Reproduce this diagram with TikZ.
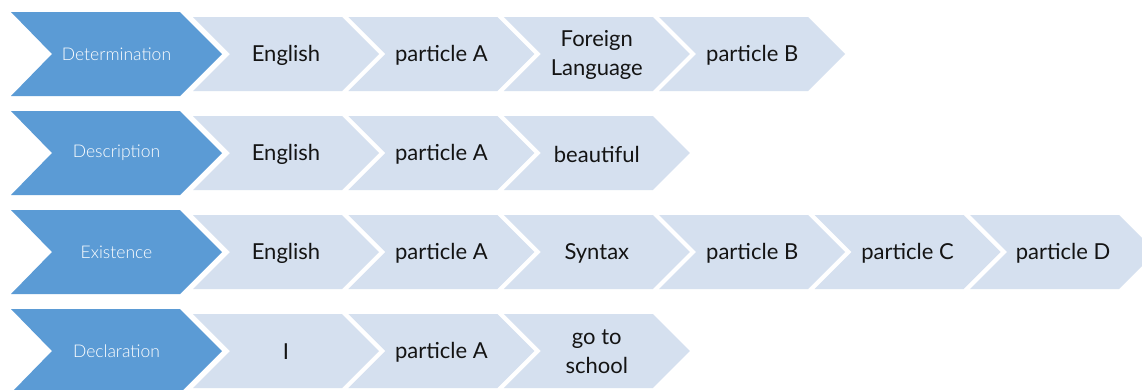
\documentclass[tikz,border=0pt]{standalone}
\usepackage{fontspec}
\setmainfont{Lato}
\newfontfamily\thinfont{Lato Light}
\definecolor{chevblue}{RGB}{91,155,213}
\definecolor{chevlight}{RGB}{213,224,239}
\definecolor{chevtext}{RGB}{20,20,20}
\newcommand{\bluechev}[2]{%
  \fill[chevblue] (11,#1-42) -- (180,#1-42) -- (222,#1) -- (180,#1+42) -- (11,#1+42) -- (52,#1) -- cycle;
  \node[bluetext] (#2) at (116.5,#1) {#2};}
\newcommand{\lightchev}[4]{% index, cy, name, text
  \pgfmathsetmacro{\L}{193+155.4*#1}
  \fill[chevlight] (\L,#2-37) -- (\L+149,#2-37) -- (\L+186,#2) -- (\L+149,#2+37) -- (\L,#2+37) -- (\L+37,#2) -- cycle;
  \node[lighttext] (#3) at (\L+93,#2+1) {#4};}
\begin{document}
\begin{tikzpicture}[x=1pt,y=-1pt,
  bluetext/.style={text=white,font=\thinfont\fontsize{17.5}{20}\selectfont,inner sep=0pt,align=center},
  lighttext/.style={text=chevtext,font=\fontsize{22}{29}\selectfont,inner sep=0pt,align=center}]
\useasboundingbox (0,0) rectangle (1142,389);
\fill[white] (0,0) rectangle (1142,389);
\begin{scope}
\clip (0,0) rectangle (1142,389);
% Row 1
\bluechev{54}{Determination}
\lightchev{0}{54}{r1a}{English}
\lightchev{1}{54}{r1b}{particle A}
\lightchev{2}{54}{r1c}{Foreign\\Language}
\lightchev{3}{54}{r1d}{particle B}
% Row 2
\bluechev{153}{Description}
\lightchev{0}{153}{r2a}{English}
\lightchev{1}{153}{r2b}{particle A}
\lightchev{2}{153}{r2c}{beautiful}
% Row 3
\bluechev{252}{Existence}
\lightchev{0}{252}{r3a}{English}
\lightchev{1}{252}{r3b}{particle A}
\lightchev{2}{252}{r3c}{Syntax}
\lightchev{3}{252}{r3d}{particle B}
\lightchev{4}{252}{r3e}{particle C}
\lightchev{5}{252}{r3f}{particle D}
% Row 4
\bluechev{351}{Declaration}
\lightchev{0}{351}{r4a}{I}
\lightchev{1}{351}{r4b}{particle A}
\lightchev{2}{351}{r4c}{go to\\school}
\end{scope}
\end{tikzpicture}
\end{document}
